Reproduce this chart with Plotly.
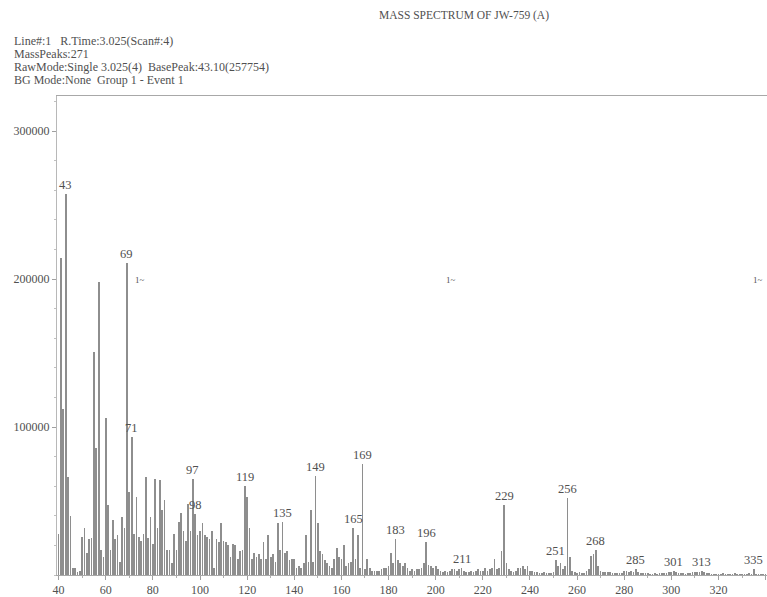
import plotly.graph_objects as go

# ---------------- data ----------------
mz = list(range(40, 341))
intensity = [
    # 40-49
    28000, 214000, 112000, 257754, 66000, 40000, 5000, 5000, 2000, 3000,
    # 50-59
    26000, 32000, 15000, 24000, 25000, 151000, 86000, 198000, 17000, 12000,
    # 60-69
    106000, 47000, 17000, 37000, 24000, 27000, 9000, 39000, 32000, 211000,
    # 70-79
    56000, 93000, 28000, 53000, 26000, 23000, 28000, 66000, 25000, 39000,
    # 80-89
    21000, 65000, 32000, 64000, 44000, 51000, 17000, 17000, 8000, 28000,
    # 90-99
    17000, 36000, 42000, 30000, 23000, 48000, 30000, 65000, 41000, 27000,
    # 100-109
    30000, 35000, 27000, 26000, 24000, 30000, 5000, 24000, 22000, 35000,
    # 110-119
    23000, 22000, 20000, 12000, 21000, 20000, 11000, 16000, 17000, 60000,
    # 120-129
    53000, 32000, 11000, 15000, 12000, 14000, 11000, 22000, 11000, 27000,
    # 130-139
    12000, 14000, 9000, 35000, 17000, 36000, 15000, 16000, 10000, 11000,
    # 140-149
    11000, 5000, 6000, 5000, 8000, 27000, 9000, 44000, 9000, 67000,
    # 150-159
    35000, 16000, 14000, 10000, 8000, 6000, 5000, 11000, 18000, 12000,
    # 160-169
    11000, 20000, 6000, 8000, 9000, 32000, 11000, 27000, 5000, 75000,
    # 170-179
    4000, 11000, 5000, 3000, 3000, 3000, 3000, 4000, 5000, 5000,
    # 180-189
    6000, 15000, 8000, 24000, 10000, 8000, 6000, 8000, 5000, 3000,
    # 190-199
    4000, 3000, 4000, 4000, 5000, 8000, 22000, 7000, 6000, 5000,
    # 200-209
    6000, 4000, 3000, 2000, 3000, 2000, 3000, 4000, 4000, 3000,
    # 210-219
    4000, 5000, 3000, 2000, 2000, 3000, 2000, 3000, 4000, 3000,
    # 220-229
    3000, 5000, 3000, 4000, 5000, 11000, 4000, 5000, 16000, 47000,
    # 230-239
    8000, 4000, 3000, 2000, 3000, 5000, 5000, 6000, 4000, 6000,
    # 240-249
    3000, 3000, 2000, 2000, 1000, 1000, 2000, 1000, 1000, 1000,
    # 250-259
    2000, 10000, 6000, 8000, 4000, 6000, 52000, 12000, 3000, 2000,
    # 260-269
    1000, 2000, 1000, 1000, 3000, 4000, 13000, 14000, 17000, 6000,
    # 270-279
    3000, 2000, 2000, 2000, 2000, 1000, 1000, 1000, 1000, 1000,
    # 280-289
    3000, 3000, 2000, 3000, 2000, 4000, 2000, 1000, 1000, 1000,
    # 290-299
    1000, 500, 500, 1000, 500, 1000, 1000, 1000, 1000, 2000,
    # 300-309
    2000, 3000, 2000, 1000, 1000, 1000, 500, 1000, 1000, 2000,
    # 310-319
    2000, 2000, 2000, 3000, 2000, 1000, 1000, 500, 500, 500,
    # 320-329
    500, 500, 1000, 500, 500, 500, 500, 1000, 500, 500,
    # 330-340
    500, 500, 500, 1000, 500, 4000, 500, 500, 500, 500, 500,
]

peak_labels = [43, 69, 71, 97, 98, 119, 135, 149, 165, 169, 183, 196, 211,
               229, 251, 256, 268, 285, 301, 313, 335]

x_tick_vals = list(range(40, 341, 20))
y_tick_vals = [100000, 200000, 300000]

header_lines = [
    "Line#:1   R.Time:3.025(Scan#:4)",
    "MassPeaks:271",
    "RawMode:Single 3.025(4)  BasePeak:43.10(257754)",
    "BG Mode:None  Group 1 - Event 1",
]
title_text = "MASS SPECTRUM OF JW-759 (A)"
marker_text = "1~"
marker_x = [74.5, 206.5, 336.7]

# ---------------- figure ----------------
FONT = "Liberation Serif"
TXT = "#505050"
BAR = "#8e8e8e"

W, H = 767, 597
ML, MR, MT, MB = 57, 0, 96, 22
plot_w = W - ML - MR
plot_h = H - MT - MB

fig = go.Figure()
fig.add_trace(go.Bar(
    x=mz, y=intensity, width=0.3,
    marker=dict(color=BAR, line=dict(width=0)),
    hoverinfo="x+y",
))

annotations = []
lookup = dict(zip(mz, intensity))
for p in peak_labels:
    annotations.append(dict(
        x=p, y=lookup[p], xref="x", yref="y", text=str(p),
        showarrow=False, yanchor="bottom", xanchor="center", yshift=0,
        font=dict(family=FONT, size=12.5, color=TXT),
    ))

for mx in marker_x:
    annotations.append(dict(
        x=mx, y=199000, xref="x", yref="y", text=marker_text,
        showarrow=False, font=dict(family=FONT, size=9, color=TXT),
    ))

def px_to_paper_x(px):
    return (px - ML) / plot_w

def py_to_paper_y(py):
    return (H - MB - py) / plot_h

header_y = [41, 54, 67, 80]
for t, yy in zip(header_lines, header_y):
    annotations.append(dict(
        x=px_to_paper_x(12), y=py_to_paper_y(yy), xref="paper", yref="paper",
        text=t, showarrow=False, xanchor="left", yanchor="middle",
        font=dict(family=FONT, size=12, color=TXT),
    ))

annotations.append(dict(
    x=px_to_paper_x(464), y=py_to_paper_y(15), xref="paper", yref="paper",
    text=title_text, showarrow=False, xanchor="center", yanchor="middle",
    font=dict(family=FONT, size=11.5, color=TXT),
))

fig.update_layout(
    width=W, height=H,
    margin=dict(l=ML, r=MR, t=MT, b=MB, pad=0),
    paper_bgcolor="white", plot_bgcolor="white",
    showlegend=False, bargap=0,
    annotations=annotations,
    font=dict(family=FONT, size=12, color=TXT),
)
fig.update_xaxes(
    range=[39.32, 340.6], tickvals=x_tick_vals,
    ticktext=[str(v) for v in x_tick_vals],
    showgrid=False, zeroline=False,
    showline=True, linecolor="#a8a8a8", linewidth=1, mirror=True,
    ticks="outside", ticklen=4, tickcolor="#a0a0a0",
    minor=dict(dtick=10, tick0=40, ticks="outside", ticklen=2, tickcolor="#b0b0b0"),
    tickfont=dict(family=FONT, size=12, color=TXT),
)
fig.update_yaxes(
    range=[0, plot_h / 148 * 100000], tickvals=y_tick_vals,
    ticktext=[str(v) for v in y_tick_vals],
    showgrid=False, zeroline=False,
    showline=True, linecolor="#b8b8b8", linewidth=1, mirror=False,
    ticks="outside", ticklen=4, tickcolor="#a0a0a0",
    minor=dict(dtick=20000, ticks="outside", ticklen=2, tickcolor="#c0c0c0"),
    tickfont=dict(family=FONT, size=12, color=TXT),
)

fig.write_html(
    "out.html",
    config={"displayModeBar": False},
    post_script="document.body.style.margin='0px';document.body.style.overflow='hidden';",
)
